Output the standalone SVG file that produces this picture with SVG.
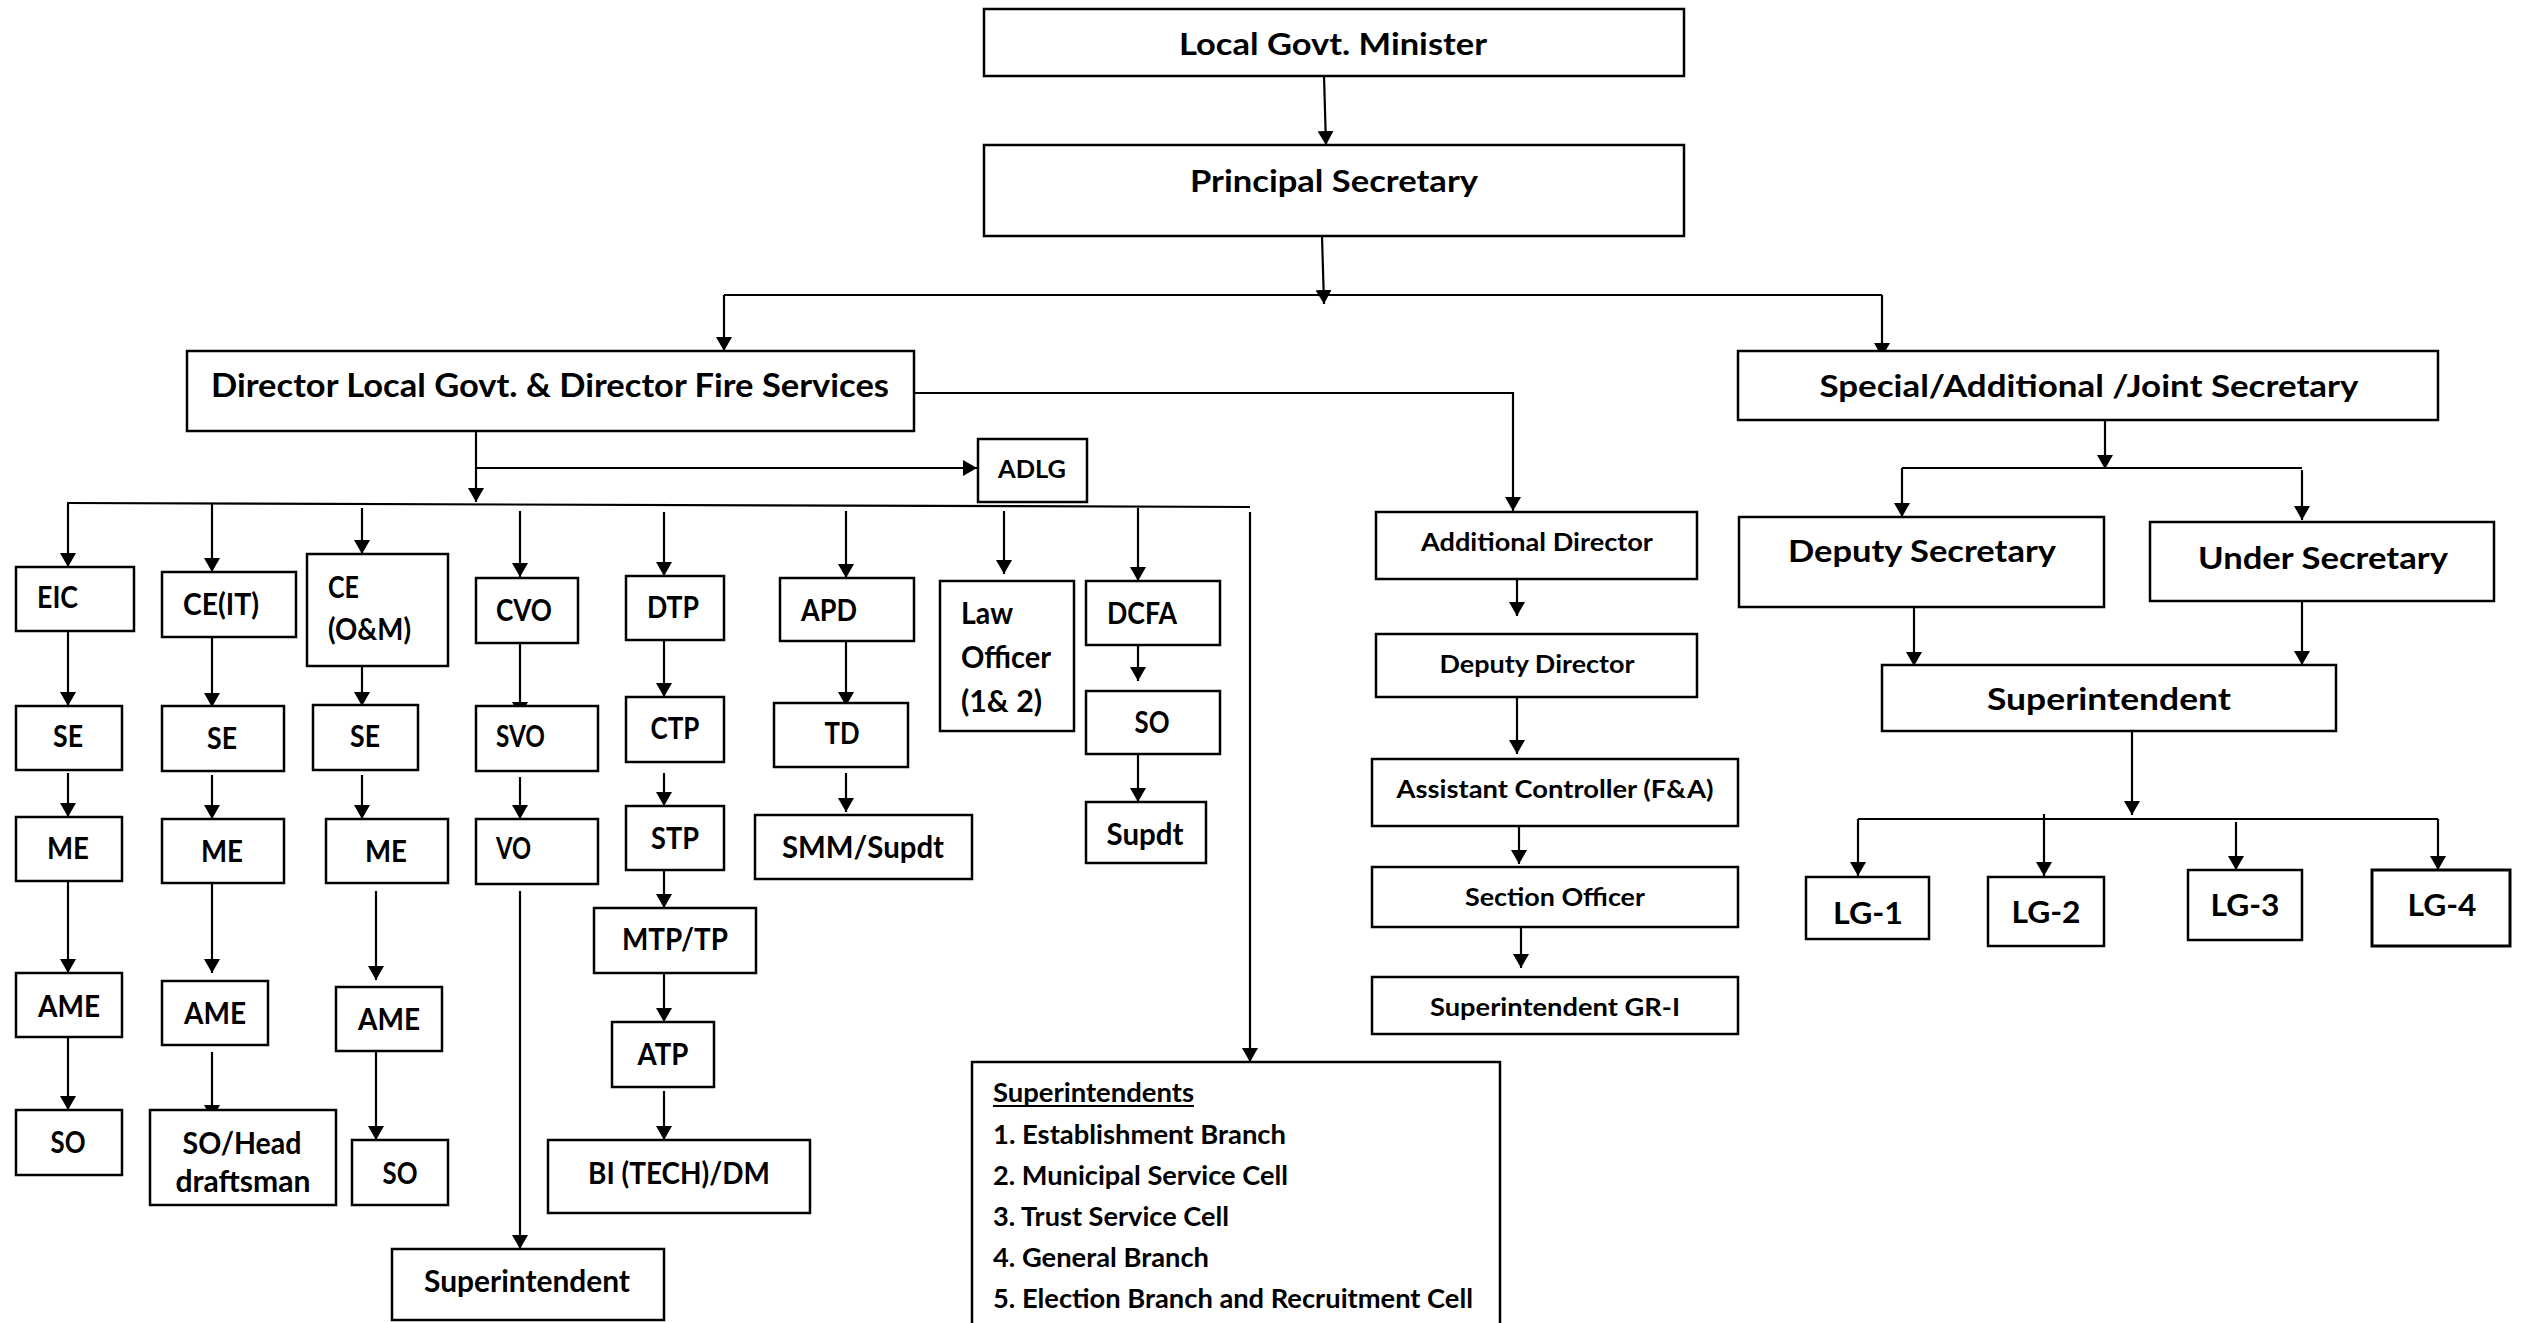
<svg xmlns="http://www.w3.org/2000/svg" width="2524" height="1323" viewBox="0 0 2524 1323">
<style>
.box{fill:#fff;stroke:#000;stroke-width:2.5}
.thick{stroke-width:3}
.t{font-family:Lato,"Liberation Sans",sans-serif;font-weight:700;fill:#000;font-size:30px}
.m{text-anchor:middle}
.s25{font-size:25px}
.s27{font-size:27px}
.s32{font-size:32px}
.ln{fill:none;stroke:#000;stroke-width:2.2}
.ar{marker-end:url(#ah)}
</style>
<defs>
<marker id="ah" markerUnits="userSpaceOnUse" markerWidth="14" markerHeight="16" refX="14" refY="8" orient="auto">
<path d="M0,0 L14,8 L0,16 z" fill="#000"/>
</marker>
</defs>
<rect width="2524" height="1323" fill="#fff"/>

<g id="connectors">
<line class="ln ar" x1="1324" y1="76" x2="1326" y2="145"/>
<line class="ln ar" x1="1322" y1="236" x2="1324" y2="304"/>
<line class="ln" x1="724" y1="295" x2="1882" y2="295"/>
<line class="ln ar" x1="724" y1="295" x2="724" y2="351"/>
<line class="ln ar" x1="1882" y1="295" x2="1882" y2="357"/>
<polyline class="ln ar" points="914,393 1513,393 1513,511"/>
<line class="ln ar" x1="476" y1="431" x2="476" y2="502"/>
<line class="ln ar" x1="476" y1="468" x2="977" y2="468"/>
<line class="ln" x1="67" y1="503" x2="1250" y2="507"/>
<line class="ln ar" x1="68" y1="503" x2="68" y2="567"/>
<line class="ln ar" x1="212" y1="503" x2="212" y2="572"/>
<line class="ln ar" x1="362" y1="508" x2="362" y2="554"/>
<line class="ln ar" x1="520" y1="511" x2="520" y2="577"/>
<line class="ln ar" x1="664" y1="512" x2="664" y2="576"/>
<line class="ln ar" x1="846" y1="511" x2="846" y2="578"/>
<line class="ln ar" x1="1004" y1="511" x2="1004" y2="574"/>
<line class="ln ar" x1="1138" y1="508" x2="1138" y2="581"/>
<line class="ln ar" x1="1250" y1="512" x2="1250" y2="1062"/>
<!-- EIC column -->
<line class="ln ar" x1="68" y1="631" x2="68" y2="706"/>
<line class="ln ar" x1="68" y1="773" x2="68" y2="817"/>
<line class="ln ar" x1="68" y1="881" x2="68" y2="973"/>
<line class="ln ar" x1="68" y1="1032" x2="68" y2="1110"/>
<!-- CE(IT) column -->
<line class="ln ar" x1="212" y1="637" x2="212" y2="707"/>
<line class="ln ar" x1="212" y1="775" x2="212" y2="819"/>
<line class="ln ar" x1="212" y1="883" x2="212" y2="973"/>
<line class="ln ar" x1="212" y1="1052" x2="212" y2="1119"/>
<!-- CE(O&M) column -->
<line class="ln ar" x1="362" y1="666" x2="362" y2="706"/>
<line class="ln ar" x1="362" y1="775" x2="362" y2="819"/>
<line class="ln ar" x1="376" y1="891" x2="376" y2="980"/>
<line class="ln ar" x1="376" y1="1051" x2="376" y2="1140"/>
<!-- CVO column -->
<line class="ln ar" x1="520" y1="643" x2="520" y2="716"/>
<line class="ln ar" x1="520" y1="777" x2="520" y2="819"/>
<line class="ln ar" x1="520" y1="891" x2="520" y2="1249"/>
<!-- DTP column -->
<line class="ln ar" x1="664" y1="640" x2="664" y2="697"/>
<line class="ln ar" x1="664" y1="773" x2="664" y2="806"/>
<line class="ln ar" x1="664" y1="870" x2="664" y2="908"/>
<line class="ln ar" x1="664" y1="973" x2="664" y2="1022"/>
<line class="ln ar" x1="664" y1="1091" x2="664" y2="1140"/>
<!-- APD column -->
<line class="ln ar" x1="846" y1="641" x2="846" y2="706"/>
<line class="ln ar" x1="846" y1="773" x2="846" y2="812"/>
<!-- DCFA column -->
<line class="ln ar" x1="1138" y1="645" x2="1138" y2="681"/>
<line class="ln ar" x1="1138" y1="750" x2="1138" y2="802"/>
<!-- Additional director chain -->
<line class="ln ar" x1="1517" y1="579" x2="1517" y2="616"/>
<line class="ln ar" x1="1517" y1="697" x2="1517" y2="754"/>
<line class="ln ar" x1="1519" y1="826" x2="1519" y2="864"/>
<line class="ln ar" x1="1521" y1="921" x2="1521" y2="968"/>
<!-- Right side -->
<line class="ln ar" x1="2105" y1="420" x2="2105" y2="469"/>
<line class="ln" x1="1902" y1="468" x2="2302" y2="468"/>
<line class="ln ar" x1="1902" y1="468" x2="1902" y2="517"/>
<line class="ln ar" x1="2302" y1="470" x2="2302" y2="520"/>
<line class="ln ar" x1="1914" y1="607" x2="1914" y2="666"/>
<line class="ln ar" x1="2302" y1="601" x2="2302" y2="665"/>
<line class="ln ar" x1="2132" y1="731" x2="2132" y2="815"/>
<line class="ln" x1="1858" y1="819" x2="2438" y2="819"/>
<line class="ln ar" x1="1858" y1="819" x2="1858" y2="876"/>
<line class="ln ar" x1="2044" y1="814" x2="2044" y2="876"/>
<line class="ln ar" x1="2236" y1="822" x2="2236" y2="870"/>
<line class="ln ar" x1="2438" y1="819" x2="2438" y2="870"/>
</g>

<g id="minister"><rect class="box" x="984" y="9" width="700" height="67"/><text class="t m" x="1333" y="55" textLength="308" lengthAdjust="spacingAndGlyphs">Local Govt. Minister</text></g>
<g id="principal"><rect class="box" x="984" y="145" width="700" height="91"/><text class="t m" x="1334" y="192" textLength="288" lengthAdjust="spacingAndGlyphs">Principal Secretary</text></g>
<g id="director"><rect class="box" x="187" y="351" width="727" height="80"/><text class="t m s32" x="550" y="397" textLength="678" lengthAdjust="spacingAndGlyphs">Director Local Govt. &amp; Director Fire Services</text></g>
<g id="special"><rect class="box" x="1738" y="351" width="700" height="69"/><text class="t m" x="2089" y="397" textLength="539" lengthAdjust="spacingAndGlyphs">Special/Additional /Joint Secretary</text></g>
<g id="adlg"><rect class="box" x="978" y="439" width="109" height="63"/><text class="t m s25" x="1032" y="478" textLength="68" lengthAdjust="spacingAndGlyphs">ADLG</text></g>

<g id="eic"><rect class="box" x="16" y="567" width="118" height="64"/><text class="t" x="37" y="608" textLength="41" lengthAdjust="spacingAndGlyphs">EIC</text></g>
<g id="se1"><rect class="box" x="16" y="706" width="106" height="64"/><text class="t m" x="68" y="747" textLength="30" lengthAdjust="spacingAndGlyphs">SE</text></g>
<g id="me1"><rect class="box" x="16" y="817" width="106" height="64"/><text class="t m" x="68" y="859" textLength="42" lengthAdjust="spacingAndGlyphs">ME</text></g>
<g id="ame1"><rect class="box" x="16" y="973" width="106" height="64"/><text class="t m" x="69" y="1017" textLength="62" lengthAdjust="spacingAndGlyphs">AME</text></g>
<g id="so1"><rect class="box" x="16" y="1110" width="106" height="65"/><text class="t m" x="68" y="1153" textLength="35" lengthAdjust="spacingAndGlyphs">SO</text></g>

<g id="ceit"><rect class="box" x="162" y="572" width="134" height="65"/><text class="t" x="183" y="615" textLength="76" lengthAdjust="spacingAndGlyphs">CE(IT)</text></g>
<g id="se2"><rect class="box" x="162" y="706" width="122" height="65"/><text class="t m" x="222" y="749" textLength="30" lengthAdjust="spacingAndGlyphs">SE</text></g>
<g id="me2"><rect class="box" x="162" y="819" width="122" height="64"/><text class="t m" x="222" y="862" textLength="42" lengthAdjust="spacingAndGlyphs">ME</text></g>
<g id="ame2"><rect class="box" x="162" y="981" width="106" height="64"/><text class="t m" x="215" y="1024" textLength="62" lengthAdjust="spacingAndGlyphs">AME</text></g>
<g id="sohead"><rect class="box" x="150" y="1110" width="186" height="95"/><text class="t m" x="242" y="1154" textLength="119" lengthAdjust="spacingAndGlyphs">SO/Head</text><text class="t m" x="243" y="1192" textLength="135" lengthAdjust="spacingAndGlyphs">draftsman</text></g>

<g id="ceom"><rect class="box" x="307" y="554" width="141" height="112"/><text class="t" x="328" y="598" textLength="31" lengthAdjust="spacingAndGlyphs">CE</text><text class="t" x="328" y="640" textLength="83" lengthAdjust="spacingAndGlyphs">(O&amp;M)</text></g>
<g id="se3"><rect class="box" x="313" y="705" width="105" height="65"/><text class="t m" x="365" y="747" textLength="30" lengthAdjust="spacingAndGlyphs">SE</text></g>
<g id="me3"><rect class="box" x="326" y="819" width="122" height="64"/><text class="t m" x="386" y="862" textLength="42" lengthAdjust="spacingAndGlyphs">ME</text></g>
<g id="ame3"><rect class="box" x="336" y="987" width="106" height="64"/><text class="t m" x="389" y="1030" textLength="62" lengthAdjust="spacingAndGlyphs">AME</text></g>
<g id="so3"><rect class="box" x="352" y="1140" width="96" height="65"/><text class="t m" x="400" y="1184" textLength="35" lengthAdjust="spacingAndGlyphs">SO</text></g>

<g id="cvo"><rect class="box" x="476" y="578" width="102" height="65"/><text class="t m" x="524" y="621" textLength="56" lengthAdjust="spacingAndGlyphs">CVO</text></g>
<g id="svo"><rect class="box" x="476" y="706" width="122" height="65"/><text class="t" x="496" y="747" textLength="49" lengthAdjust="spacingAndGlyphs">SVO</text></g>
<g id="vo"><rect class="box" x="476" y="819" width="122" height="65"/><text class="t" x="496" y="859" textLength="35" lengthAdjust="spacingAndGlyphs">VO</text></g>
<g id="superintendent-vo"><rect class="box" x="392" y="1249" width="272" height="71"/><text class="t m" x="527" y="1292" textLength="206" lengthAdjust="spacingAndGlyphs">Superintendent</text></g>

<g id="dtp"><rect class="box" x="626" y="576" width="98" height="64"/><text class="t m" x="673" y="618" textLength="52" lengthAdjust="spacingAndGlyphs">DTP</text></g>
<g id="ctp"><rect class="box" x="626" y="697" width="98" height="65"/><text class="t m" x="675" y="739" textLength="49" lengthAdjust="spacingAndGlyphs">CTP</text></g>
<g id="stp"><rect class="box" x="626" y="806" width="98" height="64"/><text class="t m" x="675" y="849" textLength="48" lengthAdjust="spacingAndGlyphs">STP</text></g>
<g id="mtp"><rect class="box" x="594" y="908" width="162" height="65"/><text class="t m" x="675" y="950" textLength="106" lengthAdjust="spacingAndGlyphs">MTP/TP</text></g>
<g id="atp"><rect class="box" x="612" y="1022" width="102" height="65"/><text class="t m" x="663" y="1065" textLength="51" lengthAdjust="spacingAndGlyphs">ATP</text></g>
<g id="bi"><rect class="box" x="548" y="1140" width="262" height="73"/><text class="t m" x="679" y="1184" textLength="182" lengthAdjust="spacingAndGlyphs">BI (TECH)/DM</text></g>

<g id="apd"><rect class="box" x="780" y="578" width="134" height="63"/><text class="t" x="801" y="621" textLength="56" lengthAdjust="spacingAndGlyphs">APD</text></g>
<g id="td"><rect class="box" x="774" y="703" width="134" height="64"/><text class="t m" x="842" y="744" textLength="35" lengthAdjust="spacingAndGlyphs">TD</text></g>
<g id="smm"><rect class="box" x="755" y="815" width="217" height="64"/><text class="t m" x="863" y="858" textLength="162" lengthAdjust="spacingAndGlyphs">SMM/Supdt</text></g>

<g id="law"><rect class="box" x="940" y="581" width="134" height="150"/><text class="t" x="961" y="624" textLength="52" lengthAdjust="spacingAndGlyphs">Law</text><text class="t" x="961" y="668" textLength="90" lengthAdjust="spacingAndGlyphs">Officer</text><text class="t" x="961" y="712" textLength="81" lengthAdjust="spacingAndGlyphs">(1&amp; 2)</text></g>

<g id="dcfa"><rect class="box" x="1086" y="581" width="134" height="64"/><text class="t" x="1107" y="624" textLength="70" lengthAdjust="spacingAndGlyphs">DCFA</text></g>
<g id="so-dcfa"><rect class="box" x="1086" y="691" width="134" height="63"/><text class="t m" x="1152" y="733" textLength="35" lengthAdjust="spacingAndGlyphs">SO</text></g>
<g id="supdt"><rect class="box" x="1086" y="802" width="120" height="61"/><text class="t m" x="1145" y="845" textLength="77" lengthAdjust="spacingAndGlyphs">Supdt</text></g>

<g id="superintendents"><rect class="box" x="972" y="1062" width="528" height="290"/>
<text class="t s27" x="993" y="1102" textLength="201" lengthAdjust="spacingAndGlyphs">Superintendents</text>
<line x1="993" y1="1106" x2="1194" y2="1106" stroke="#000" stroke-width="2"/>
<text class="t s27" x="993" y="1144" textLength="293" lengthAdjust="spacingAndGlyphs">1. Establishment Branch</text>
<text class="t s27" x="993" y="1185" textLength="295" lengthAdjust="spacingAndGlyphs">2. Municipal Service Cell</text>
<text class="t s27" x="993" y="1226" textLength="236" lengthAdjust="spacingAndGlyphs">3. Trust Service Cell</text>
<text class="t s27" x="993" y="1267" textLength="216" lengthAdjust="spacingAndGlyphs">4. General Branch</text>
<text class="t s27" x="993" y="1308" textLength="480" lengthAdjust="spacingAndGlyphs">5. Election Branch and Recruitment Cell</text>
</g>

<g id="additional-director"><rect class="box" x="1376" y="512" width="321" height="67"/><text class="t m s25" x="1537" y="551" textLength="232" lengthAdjust="spacingAndGlyphs">Additional Director</text></g>
<g id="deputy-director"><rect class="box" x="1376" y="634" width="321" height="63"/><text class="t m s25" x="1537" y="673" textLength="195" lengthAdjust="spacingAndGlyphs">Deputy Director</text></g>
<g id="assistant-controller"><rect class="box" x="1372" y="759" width="366" height="67"/><text class="t m s25" x="1555" y="798" textLength="317" lengthAdjust="spacingAndGlyphs">Assistant Controller (F&amp;A)</text></g>
<g id="section-officer"><rect class="box" x="1372" y="867" width="366" height="60"/><text class="t m s25" x="1555" y="906" textLength="180" lengthAdjust="spacingAndGlyphs">Section Officer</text></g>
<g id="superintendent-gr1"><rect class="box" x="1372" y="977" width="366" height="57"/><text class="t m s25" x="1555" y="1016" textLength="250" lengthAdjust="spacingAndGlyphs">Superintendent GR-I</text></g>

<g id="deputy-secretary"><rect class="box" x="1739" y="517" width="365" height="90"/><text class="t m" x="1922" y="562" textLength="268" lengthAdjust="spacingAndGlyphs">Deputy Secretary</text></g>
<g id="under-secretary"><rect class="box" x="2150" y="522" width="344" height="79"/><text class="t m" x="2323" y="569" textLength="250" lengthAdjust="spacingAndGlyphs">Under Secretary</text></g>
<g id="superintendent-right"><rect class="box" x="1882" y="665" width="454" height="66"/><text class="t m" x="2109" y="710" textLength="244" lengthAdjust="spacingAndGlyphs">Superintendent</text></g>
<g id="lg1"><rect class="box" x="1806" y="877" width="123" height="62"/><text class="t m" x="1868" y="924" textLength="70" lengthAdjust="spacingAndGlyphs">LG-1</text></g>
<g id="lg2"><rect class="box" x="1988" y="877" width="116" height="69"/><text class="t m" x="2046" y="923" textLength="69" lengthAdjust="spacingAndGlyphs">LG-2</text></g>
<g id="lg3"><rect class="box" x="2188" y="870" width="114" height="70"/><text class="t m" x="2245" y="916" textLength="69" lengthAdjust="spacingAndGlyphs">LG-3</text></g>
<g id="lg4"><rect class="box thick" x="2372" y="870" width="138" height="76"/><text class="t m" x="2442" y="916" textLength="69" lengthAdjust="spacingAndGlyphs">LG-4</text></g>
</svg>
